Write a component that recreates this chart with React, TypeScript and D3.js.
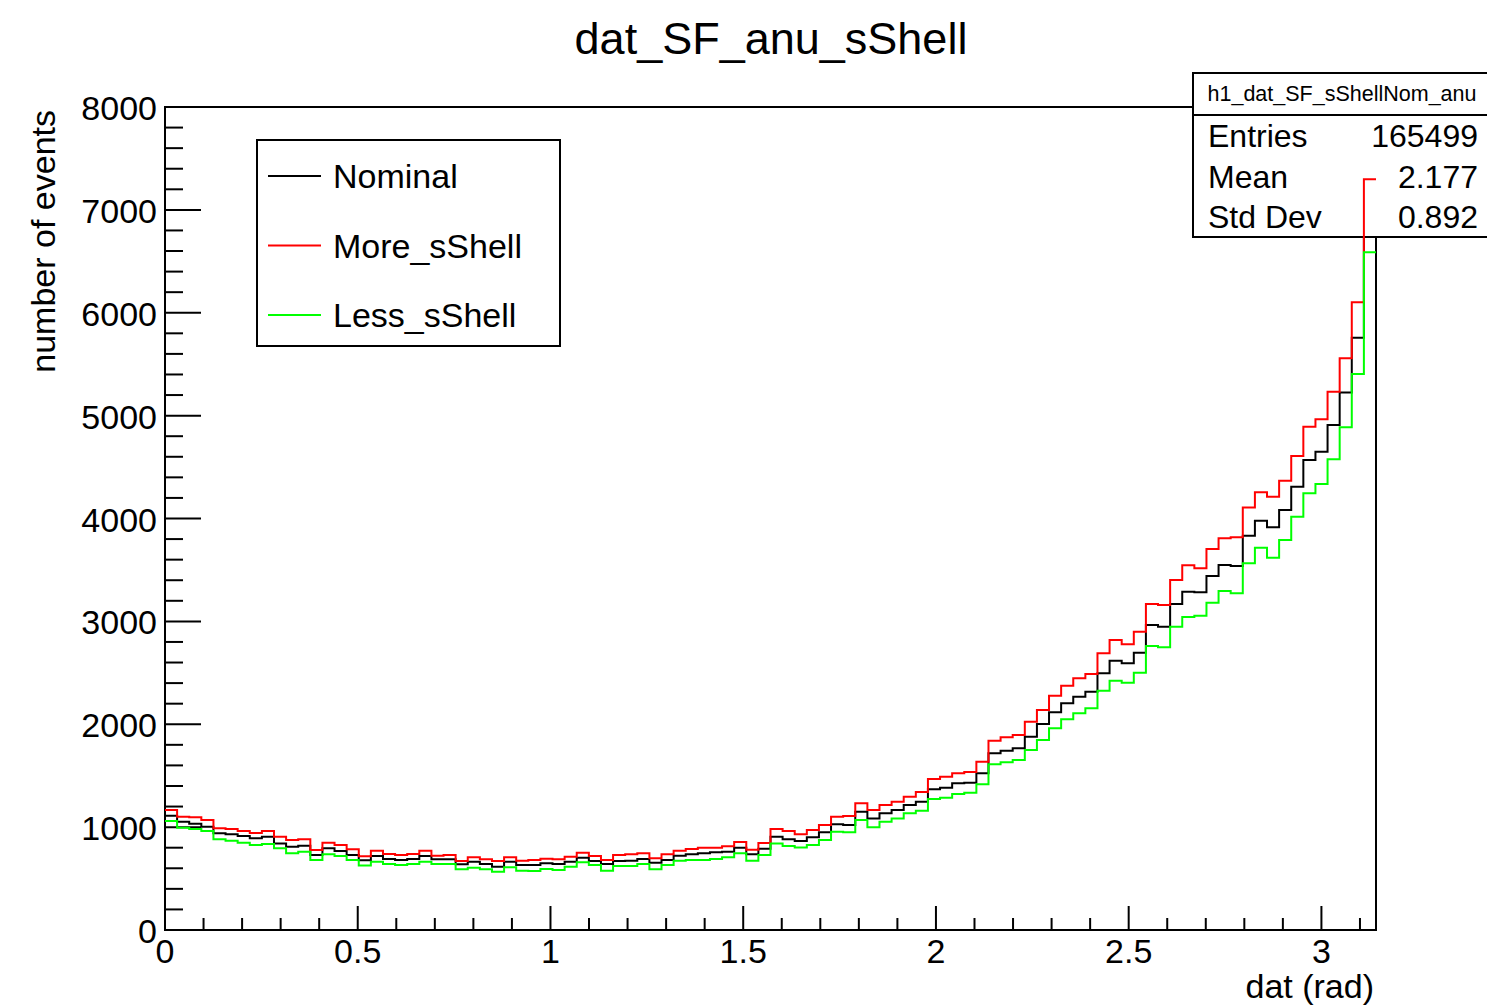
import React from "react";
import * as d3 from "d3";

// Histogram contents: 100 bins over [0, pi]
const nominal = [
  1111, 1053, 1034, 1004, 940, 930, 914, 891, 907, 842,
  810, 820, 729, 794, 768, 729, 677, 719, 690, 680,
  690, 719, 687, 687, 638, 664, 641, 616, 664, 632,
  632, 648, 642, 664, 703, 671, 642, 671, 674, 690,
  654, 680, 722, 736, 745, 755, 761, 800, 736, 790,
  907, 881, 865, 901, 949, 1027, 1021, 1150, 1085, 1134,
  1166, 1215, 1247, 1367, 1383, 1426, 1432, 1523, 1717, 1743,
  1766, 1879, 2002, 2116, 2203, 2268, 2316, 2495, 2618, 2592,
  2696, 2965, 2948, 3169, 3289, 3282, 3441, 3548, 3538, 3833,
  3979, 3914, 4082, 4309, 4568, 4650, 4909, 5226, 5758, 6900,
];

const moreShell = [
  1166, 1102, 1095, 1069, 988, 982, 962, 943, 962, 907,
  875, 881, 778, 849, 826, 784, 718, 771, 739, 729,
  739, 771, 722, 729, 671, 706, 687, 671, 706, 674,
  680, 693, 688, 713, 752, 719, 680, 729, 736, 745,
  697, 736, 771, 787, 800, 800, 813, 855, 781, 845,
  982, 962, 930, 972, 1021, 1102, 1108, 1231, 1166, 1215,
  1247, 1296, 1341, 1468, 1490, 1523, 1536, 1636, 1840, 1873,
  1895, 2025, 2138, 2278, 2375, 2446, 2488, 2689, 2819, 2777,
  2900, 3169, 3159, 3402, 3545, 3516, 3703, 3807, 3817, 4108,
  4254, 4212, 4367, 4607, 4892, 4964, 5233, 5557, 6101, 7297,
];

const lessShell = [
  1060, 995, 982, 962, 881, 868, 849, 826, 836, 794,
  745, 761, 680, 736, 719, 680, 627, 664, 641, 632,
  641, 664, 641, 641, 590, 606, 590, 567, 609, 577,
  573, 593, 583, 616, 658, 632, 577, 622, 622, 642,
  590, 632, 674, 680, 680, 690, 706, 745, 674, 729,
  842, 817, 803, 826, 875, 956, 949, 1069, 998, 1053,
  1085, 1134, 1160, 1273, 1286, 1322, 1335, 1416, 1610, 1630,
  1652, 1750, 1847, 1960, 2048, 2106, 2155, 2326, 2423, 2404,
  2501, 2760, 2748, 2948, 3042, 3055, 3182, 3295, 3273, 3564,
  3716, 3619, 3791, 4017, 4245, 4335, 4575, 4886, 5404, 6587,
];

const xMajorTicks = [0, 0.5, 1, 1.5, 2, 2.5, 3];
const xTickLabels = ["0", "0.5", "1", "1.5", "2", "2.5", "3"];
const yMajorTicks = [0, 1000, 2000, 3000, 4000, 5000, 6000, 7000, 8000];

const legendNames = ["Nominal", "More_sShell", "Less_sShell"];
const legendColors = ["#000000", "#ff0000", "#00ff00"];

const statLabels = ["Entries", "Mean", "Std Dev"];
const statValues = ["165499", "2.177", "0.892"];

const W = 1487;
const H = 1008;
const FONT = "'Liberation Sans', Arial, Helvetica, sans-serif";

const left = 165;
const right = 1376;
const top = 107;
const bottom = 930;

const nBins = 100;
const xMax = Math.PI;

export default function App() {
  const x = d3.scaleLinear().domain([0, xMax]).range([left, right]);
  const y = d3.scaleLinear().domain([0, 8000]).range([bottom, top]);

  const edges = d3.range(nBins + 1).map((i) => (i * xMax) / nBins);

  const stepPath = (vals: number[]) => {
    const pts: [number, number][] = vals.map((v, i) => [edges[i], v]);
    pts.push([edges[nBins], vals[nBins - 1]]);
    return d3
      .line<[number, number]>()
      .x((d) => x(d[0]))
      .y((d) => y(d[1]))
      .curve(d3.curveStepAfter)(pts) as string;
  };

  const xMinor = d3.range(0, 32).map((i) => i / 10).filter((v) => v <= xMax);
  const yMinor = d3.range(0, 41).map((i) => i * 200);

  // stat box geometry
  const sbX0 = 1193;
  const sbX1 = 1490;
  const sbY0 = 73;
  const sbYh = 115;
  const sbY1 = 237;

  return (
    <div style={{ position: "fixed", left: 0, top: 0, width: W, height: H, background: "#fff" }}>
      <svg width={W} height={H} style={{ display: "block" }} fontFamily={FONT}>
        <rect x={0} y={0} width={W} height={H} fill="#fff" />

        {/* title */}
        <text x={771} y={54} fontSize={45} textAnchor="middle" fill="#000">
          dat_SF_anu_sShell
        </text>

        {/* nominal histogram, drawn under the stats box */}
        <path d={stepPath(nominal)} fill="none" stroke="#000" strokeWidth={2} />

        {/* frame */}
        <rect x={left} y={top} width={right - left} height={bottom - top} fill="none" stroke="#000" strokeWidth={2} />

        {/* x ticks */}
        {xMinor.map((v, i) => {
          const isMajor = Math.abs(v * 2 - Math.round(v * 2)) < 1e-6;
          return (
            <line key={"xt" + i} x1={x(v)} x2={x(v)} y1={bottom} y2={bottom - (isMajor ? 24 : 12)} stroke="#000" strokeWidth={2} />
          );
        })}
        {xMajorTicks.map((v, i) => (
          <text key={"xl" + i} x={x(v)} y={963} fontSize={34} textAnchor="middle" fill="#000">
            {xTickLabels[i]}
          </text>
        ))}

        {/* y ticks */}
        {yMinor.map((v, i) => {
          const isMajor = v % 1000 === 0;
          return (
            <line key={"yt" + i} x1={left} x2={left + (isMajor ? 36 : 18)} y1={y(v)} y2={y(v)} stroke="#000" strokeWidth={2} />
          );
        })}
        {yMajorTicks.map((v, i) => (
          <text key={"yl" + i} x={157} y={y(v) + 13} fontSize={34} textAnchor="end" fill="#000">
            {String(v)}
          </text>
        ))}

        {/* axis titles */}
        <text x={1374} y={998} fontSize={34} textAnchor="end" fill="#000">
          dat (rad)
        </text>
        <text transform={`translate(55,110) rotate(-90)`} fontSize={34} textAnchor="end" fill="#000">
          number of events
        </text>

        {/* stats box */}
        <rect x={sbX0} y={sbY0} width={sbX1 - sbX0} height={sbY1 - sbY0} fill="#fff" stroke="#000" strokeWidth={2} />
        <line x1={sbX0} x2={sbX1} y1={sbYh} y2={sbYh} stroke="#000" strokeWidth={2} />
        <text x={1342} y={101} fontSize={21.5} textAnchor="middle" fill="#000">
          h1_dat_SF_sShellNom_anu
        </text>
        {statLabels.map((s, i) => (
          <g key={"st" + i}>
            <text x={1208} y={147 + i * 40.5} fontSize={32} fill="#000">
              {s}
            </text>
            <text x={1478} y={147 + i * 40.5} fontSize={32} textAnchor="end" fill="#000">
              {statValues[i]}
            </text>
          </g>
        ))}

        {/* varied histograms */}
        <path d={stepPath(moreShell)} fill="none" stroke="#ff0000" strokeWidth={2} />
        <path d={stepPath(lessShell)} fill="none" stroke="#00ff00" strokeWidth={2} />

        {/* legend */}
        <rect x={257} y={140} width={303} height={206} fill="#fff" stroke="#000" strokeWidth={2} />
        {legendNames.map((n, i) => (
          <g key={"lg" + i}>
            <line x1={268} x2={321} y1={176 + i * 69.5} y2={176 + i * 69.5} stroke={legendColors[i]} strokeWidth={2} />
            <text x={333} y={176 + i * 69.5 + 12} fontSize={34} fill="#000">
              {n}
            </text>
          </g>
        ))}
      </svg>
    </div>
  );
}
